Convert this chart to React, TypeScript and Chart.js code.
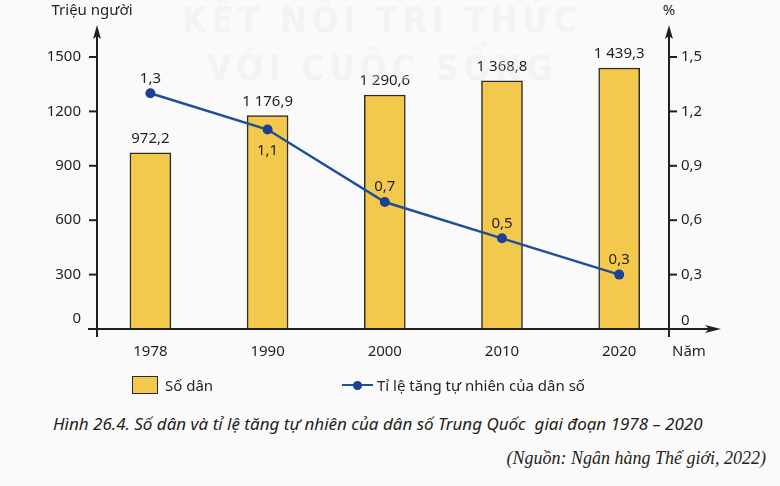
import React, { useEffect, useRef } from "react";
import { Chart, registerables } from "chart.js";

Chart.register(...registerables);

const YEARS = ["1978", "1990", "2000", "2010", "2020"];
const POPULATION = [972.2, 1176.9, 1290.6, 1368.8, 1439.3];
const GROWTH_RATE = [1.3, 1.1, 0.7, 0.5, 0.3];
const POP_TICKS = [0, 300, 600, 900, 1200, 1500];
const RATE_TICKS = [0, 0.3, 0.6, 0.9, 1.2, 1.5];

const FONT = "'Noto Sans', 'Open Sans', sans-serif";
const TEXT = "#231f20";
const AXIS = "#231f20";
const BAR_FILL = "#f2c94c";
const LINE_BLUE = "#1f4f9c";
const POINT_BLUE = "#1b4190";

function fmt(v: number, decimals: number, group: boolean): string {
  if (v === 0) return "0";
  const s = v.toFixed(decimals);
  const [ip, dp] = s.split(".");
  const grouped = group ? ip.replace(/\B(?=(\d{3})+(?!\d))/g, " ") : ip;
  return dp !== undefined ? grouped + "," + dp : grouped;
}

const axesPlugin = {
  id: "customAxes",
  afterDatasetsDraw(chart: any, _args: any, opts: any) {
    const ctx = chart.ctx as CanvasRenderingContext2D;
    const ca = chart.chartArea;
    const x = chart.scales.x;
    const y = chart.scales.y;
    const y1 = chart.scales.y1;
    ctx.save();
    ctx.strokeStyle = AXIS;
    ctx.fillStyle = AXIS;
    ctx.lineWidth = 2;

    const topExt = ca.top - 30;
    const arrowUp = (ax: number) => {
      ctx.beginPath();
      ctx.moveTo(ax, ca.bottom + 8);
      ctx.lineTo(ax, topExt + 6);
      ctx.stroke();
      ctx.beginPath();
      ctx.moveTo(ax, topExt - 2);
      ctx.lineTo(ax - 4, topExt + 12);
      ctx.lineTo(ax, topExt + 9);
      ctx.lineTo(ax + 4, topExt + 12);
      ctx.closePath();
      ctx.fill();
    };
    arrowUp(ca.left);
    arrowUp(ca.right);

    // x axis
    const xEnd = ca.right + 50;
    ctx.beginPath();
    ctx.moveTo(ca.left - 9, ca.bottom);
    ctx.lineTo(xEnd - 6, ca.bottom);
    ctx.stroke();
    ctx.beginPath();
    ctx.moveTo(xEnd + 2, ca.bottom);
    ctx.lineTo(xEnd - 14, ca.bottom - 4);
    ctx.lineTo(xEnd - 10, ca.bottom);
    ctx.lineTo(xEnd - 14, ca.bottom + 4);
    ctx.closePath();
    ctx.fill();

    ctx.font = `15px ${FONT}`;
    ctx.fillStyle = TEXT;
    ctx.textBaseline = "middle";

    // left ticks
    POP_TICKS.forEach((t) => {
      const py = y.getPixelForValue(t);
      if (t !== 0) {
        ctx.beginPath();
        ctx.moveTo(ca.left - 8, py);
        ctx.lineTo(ca.left, py);
        ctx.stroke();
      }
      ctx.textAlign = "right";
      ctx.fillText(fmt(t, 0, false), ca.left - 16, t === 0 ? py - 10 : py);
    });
    // right ticks
    RATE_TICKS.forEach((t) => {
      const py = y1.getPixelForValue(t);
      if (t !== 0) {
        ctx.beginPath();
        ctx.moveTo(ca.right, py);
        ctx.lineTo(ca.right + 8, py);
        ctx.stroke();
      }
      ctx.textAlign = "left";
      ctx.fillText(fmt(t, 1, false), ca.right + 12, t === 0 ? py - 8 : py);
    });

    // x labels
    ctx.textAlign = "center";
    YEARS.forEach((yr, i) => {
      ctx.fillText(yr, x.getPixelForValue(i), ca.bottom + 23);
    });
    ctx.textAlign = "left";
    ctx.fillText("Năm", ca.right + 3, ca.bottom + 23);

    // axis titles
    ctx.textAlign = "center";
    ctx.fillText("Triệu người", ca.left - 5, 11);
    ctx.fillText("%", ca.right, 11);

    // bar value labels
    POPULATION.forEach((v, i) => {
      ctx.fillText(fmt(v, 1, true), x.getPixelForValue(i), y.getPixelForValue(v) - 14);
    });
    // rate labels
    const below: boolean[] = opts.below || [];
    GROWTH_RATE.forEach((v, i) => {
      const py = y1.getPixelForValue(v);
      ctx.fillText(fmt(v, 1, false), x.getPixelForValue(i), below[i] ? py + 21 : py - 15);
    });
    ctx.restore();
  },
};

export default function App() {
  const ref = useRef<HTMLCanvasElement | null>(null);

  useEffect(() => {
    if (!ref.current) return;
    const chart = new Chart(ref.current, {
      type: "bar",
      data: {
        datasets: [
          {
            type: "line",
            label: "Tỉ lệ tăng tự nhiên của dân số",
            data: GROWTH_RATE.map((v, i) => ({ x: i, y: v })),
            yAxisID: "y1",
            borderColor: LINE_BLUE,
            borderWidth: 2.5,
            pointRadius: 5,
            pointBackgroundColor: POINT_BLUE,
            pointBorderColor: POINT_BLUE,
            pointBorderWidth: 0,
            tension: 0,
            order: 0,
          } as any,
          {
            type: "bar",
            label: "Số dân",
            data: POPULATION.map((v, i) => ({ x: i, y: v })),
            yAxisID: "y",
            backgroundColor: BAR_FILL,
            borderColor: "#2b2b2b",
            borderWidth: 1.5,
            barThickness: 41,
            order: 1,
          } as any,
        ],
      },
      options: {
        responsive: false,
        animation: false,
        devicePixelRatio: 1,
        layout: { padding: { left: 97, right: 111, top: 57, bottom: 71 } },
        plugins: {
          legend: { display: false },
          tooltip: { enabled: false },
          customAxes: { below: [false, true, false, false, false] },
        } as any,
        scales: {
          x: { type: "linear", min: -0.4556, max: 4.425, offset: false, display: false },
          y: { type: "linear", min: 0, max: 1500, display: false },
          y1: { type: "linear", min: 0, max: 1.5, display: false, position: "right" },
        },
      },
      plugins: [axesPlugin],
    });
    return () => chart.destroy();
  }, []);

  const abs = (o: React.CSSProperties): React.CSSProperties => ({ position: "absolute", ...o });

  return (
    <div
      style={{
        position: "absolute",
        left: 0,
        top: 0,
        width: 780,
        height: 486,
        background: "#fafafa",
        overflow: "hidden",
        fontFamily: FONT,
        color: TEXT,
      }}
    >
      <canvas ref={ref} width={780} height={400} style={abs({ left: 0, top: 0, width: 780, height: 400 })} />
      {/* watermark */}
      <div
        style={abs({
          left: 182,
          top: -4,
          width: 400,
          textAlign: "center",
          fontFamily: "'DejaVu Sans Condensed', 'DejaVu Sans', sans-serif",
          fontWeight: "bold",
          fontSize: 35,
          letterSpacing: 5,
          lineHeight: "48px",
          color: "rgba(228,228,228,0.28)",
          whiteSpace: "nowrap",
          pointerEvents: "none",
        })}
      >
        KẾT NỐI TRI THỨC
        <br />
        VỚI CUỘC SỐNG
      </div>
      {/* legend */}
      <div style={abs({ left: 132, top: 376, width: 24, height: 16, background: BAR_FILL, border: "1.5px solid #2b2b2b" })} />
      <div style={abs({ left: 165, top: 374, fontSize: 15, lineHeight: "22px" })}>Số dân</div>
      <div style={abs({ left: 342, top: 383.5, width: 31, height: 2.5, background: LINE_BLUE })} />
      <div style={abs({ left: 352.5, top: 380.5, width: 9, height: 9, borderRadius: "50%", background: POINT_BLUE })} />
      <div style={abs({ left: 377, top: 374, fontSize: 15, lineHeight: "22px", whiteSpace: "nowrap" })}>
        Tỉ lệ tăng tự nhiên của dân số
      </div>
      {/* caption */}
      <div style={abs({ left: 53, top: 412, fontSize: 17, fontStyle: "italic", lineHeight: "24px", whiteSpace: "nowrap" })}>
        Hình 26.4. Số dân và tỉ lệ tăng tự nhiên của dân số Trung Quốc&nbsp; giai đoạn 1978 – 2020
      </div>
      <div
        style={abs({
          right: 14,
          top: 446,
          fontSize: 18,
          fontStyle: "italic",
          fontFamily: "'Liberation Serif', 'DejaVu Serif', serif",
          lineHeight: "24px",
          whiteSpace: "nowrap",
        })}
      >
        (Nguồn: Ngân hàng Thế giới, 2022)
      </div>
    </div>
  );
}
